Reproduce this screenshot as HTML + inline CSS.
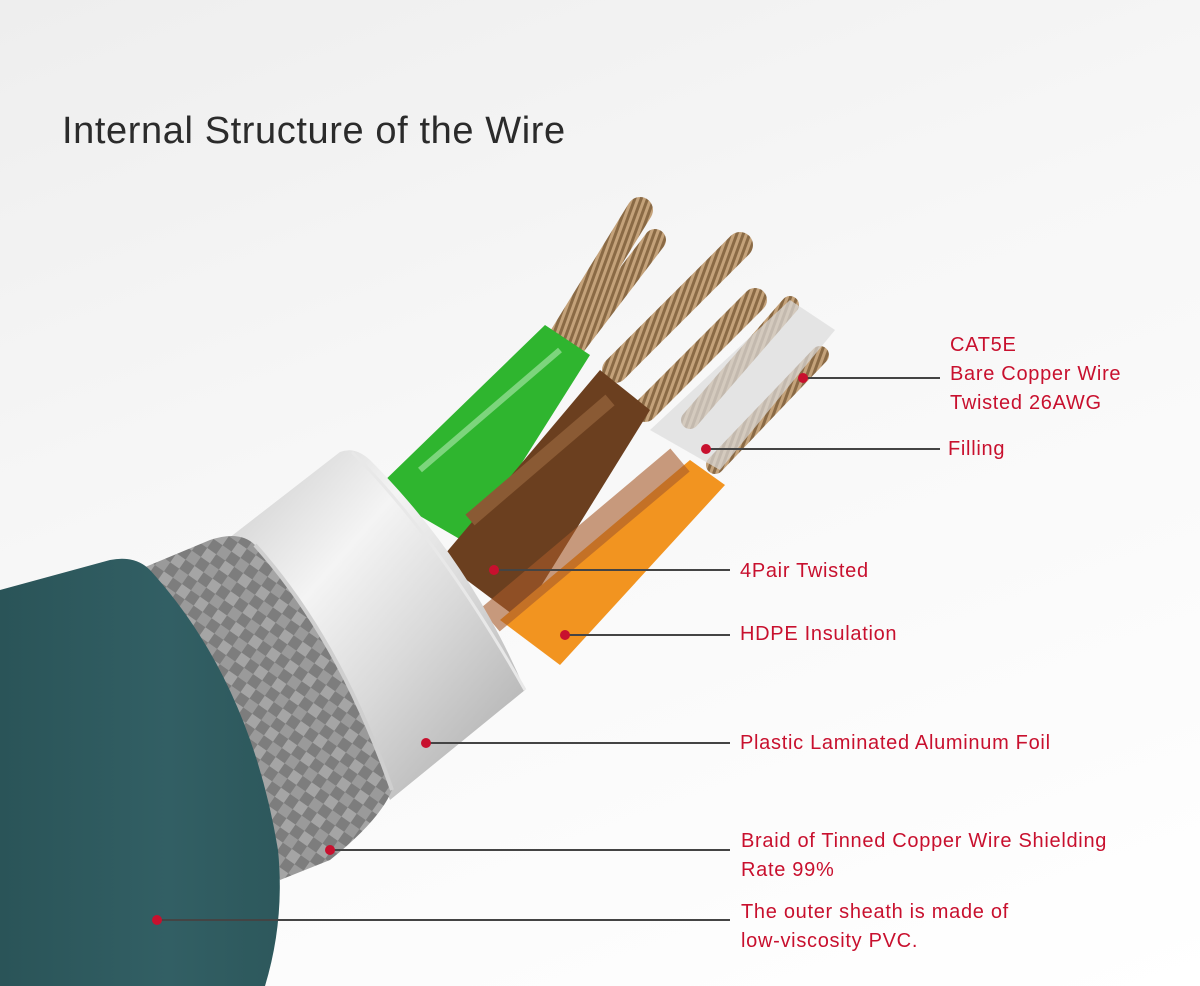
<!DOCTYPE html>
<html><head><meta charset="utf-8"><style>
html,body{margin:0;padding:0;}
body{width:1200px;height:986px;overflow:hidden;background:linear-gradient(160deg,#eeeeee 0%,#f7f7f7 40%,#ffffff 100%);font-family:"Liberation Sans",sans-serif;position:relative;}
.t{position:absolute;left:62px;top:110px;font-size:38px;color:#2b2b2b;letter-spacing:0.6px;}
.l{position:absolute;color:#c8102e;font-size:20px;line-height:29px;letter-spacing:0.7px;}
</style></head><body>
<svg width="1200" height="986" style="position:absolute;left:0;top:0">
<defs>
<linearGradient id="foil" x1="0" y1="0" x2="1" y2="1">
<stop offset="0" stop-color="#c9c9c9"/><stop offset="0.35" stop-color="#f4f4f4"/><stop offset="0.6" stop-color="#d9d9d9"/><stop offset="1" stop-color="#a8a8a8"/></linearGradient>
<linearGradient id="teal" x1="0" y1="0" x2="1" y2="0">
<stop offset="0" stop-color="#2a5458"/><stop offset="0.6" stop-color="#325f64"/><stop offset="1" stop-color="#2d585c"/></linearGradient>
<pattern id="braid" width="22" height="22" patternUnits="userSpaceOnUse" patternTransform="rotate(35)">
<rect width="22" height="22" fill="#7d7d7d"/><rect width="11" height="11" fill="#a5a5a5"/><rect x="11" y="11" width="11" height="11" fill="#9a9a9a"/></pattern>
<pattern id="cu" width="6" height="6" patternUnits="userSpaceOnUse" patternTransform="rotate(20)">
<rect width="6" height="6" fill="#8a6a45"/><rect width="3" height="6" fill="#c4a27a"/></pattern>
</defs>
<g stroke="url(#cu)" stroke-linecap="round" fill="none">
<path d="M560 340 L640 210" stroke-width="26"/>
<path d="M575 345 L655 240" stroke-width="22"/>
<path d="M615 370 L740 245" stroke-width="26"/>
<path d="M645 410 L755 300" stroke-width="24"/>
<path d="M690 420 L790 305" stroke-width="18"/>
<path d="M715 465 L820 355" stroke-width="18"/>
</g>
<path d="M650 430 L790 300 L835 330 L720 470 Z" fill="#dcdcdc" opacity="0.7"/>
<path d="M375 490 L545 325 L590 355 L470 545 Z" fill="#2fb52f"/>
<path d="M420 470 L560 350" stroke="#9fe39f" stroke-width="6" opacity="0.7"/>
<path d="M440 560 L600 370 L650 410 L520 620 Z" fill="#6b3f1f"/>
<path d="M470 520 L610 400" stroke="#8a5a34" stroke-width="14"/>
<path d="M500 620 L690 460 L725 485 L560 665 Z" fill="#f29420"/>
<path d="M490 620 L680 460" stroke="#a75b2a" stroke-width="30" opacity="0.6"/>
<path d="M220 545 L340 452 Q355 446 370 460 Q470 560 525 690 L390 800 Q330 650 220 545 Z" fill="url(#foil)"/>
<path d="M352 452 Q440 540 525 690" stroke="#e8e8e8" stroke-width="3" fill="none"/>
<path d="M90 590 L210 540 Q240 530 255 545 Q340 640 392 790 Q380 820 330 860 L280 880 Q220 700 90 590 Z" fill="url(#braid)"/>
<path d="M255 545 Q340 640 392 790" stroke="#cfcfcf" stroke-width="4" fill="none"/>
<path d="M0 590 L110 560 Q135 555 150 570 Q250 680 278 850 Q285 920 265 986 L0 986 Z" fill="url(#teal)"/>
<g stroke="#444" stroke-width="2">
<line x1="803" y1="378" x2="940" y2="378"/>
<line x1="706" y1="449" x2="940" y2="449"/>
<line x1="494" y1="570" x2="730" y2="570"/>
<line x1="565" y1="635" x2="730" y2="635"/>
<line x1="426" y1="743" x2="730" y2="743"/>
<line x1="330" y1="850" x2="730" y2="850"/>
<line x1="157" y1="920" x2="730" y2="920"/>
</g>
<g fill="#c8102e">
<circle cx="803" cy="378" r="5"/><circle cx="706" cy="449" r="5"/><circle cx="494" cy="570" r="5"/>
<circle cx="565" cy="635" r="5"/><circle cx="426" cy="743" r="5"/><circle cx="330" cy="850" r="5"/><circle cx="157" cy="920" r="5"/>
</g>
</svg>
<div class="t">Internal Structure of the Wire</div>
<div class="l" style="left:950px;top:331px">CAT5E<br>Bare Copper Wire<br>Twisted 26AWG</div>
<div class="l" style="left:948px;top:435px">Filling</div>
<div class="l" style="left:740px;top:557px">4Pair Twisted</div>
<div class="l" style="left:740px;top:620px">HDPE Insulation</div>
<div class="l" style="left:740px;top:729px">Plastic Laminated Aluminum Foil</div>
<div class="l" style="left:741px;top:827px">Braid of Tinned Copper Wire Shielding<br>Rate 99%</div>
<div class="l" style="left:741px;top:898px">The outer sheath is made of<br>low-viscosity PVC.</div>
</body></html>
